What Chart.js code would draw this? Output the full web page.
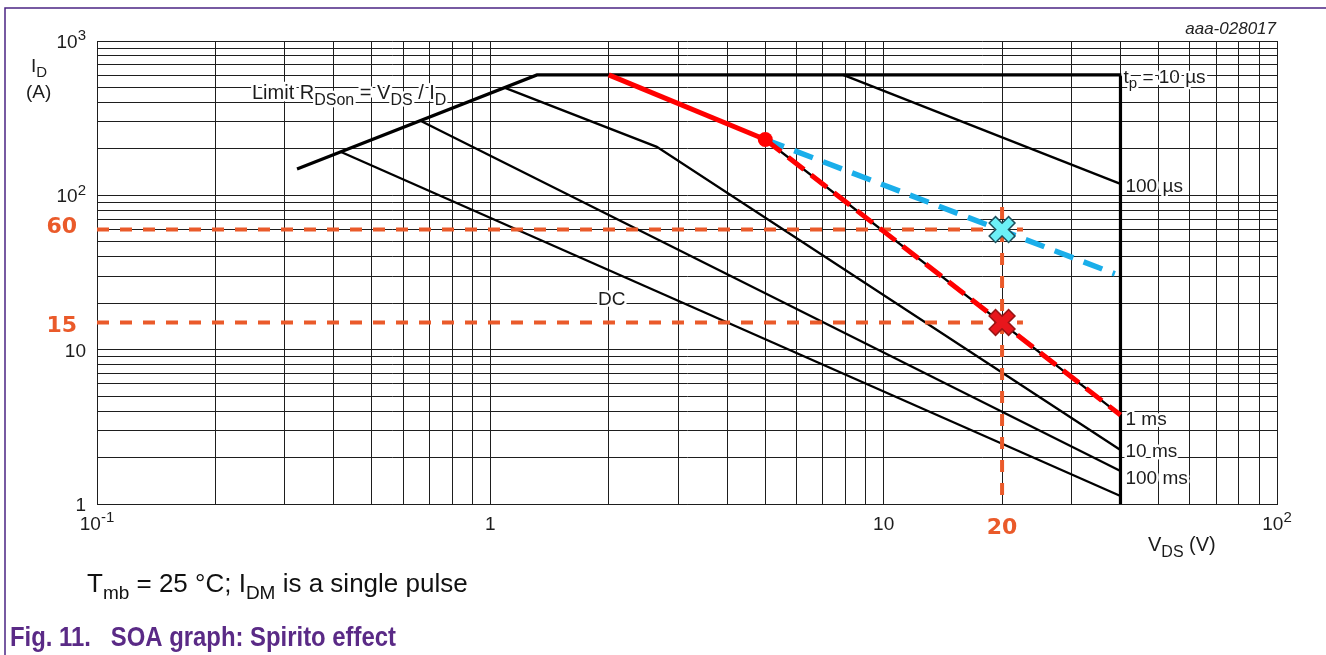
<!DOCTYPE html>
<html>
<head>
<meta charset="utf-8">
<script src="https://cdn.jsdelivr.net/npm/chart.js@4.4.1/dist/chart.umd.min.js"></script>
<style>
  html, body { margin: 0; padding: 0; background: #fff; }
  canvas { display: block; }
</style>
</head>
<body>
<canvas id="soa" width="1326" height="655"></canvas>
<script>
/* ---------- grid / tick data ---------- */
const xGridValues = [0.1, 0.2, 0.3, 0.4, 0.5, 0.6, 0.7, 0.8, 0.9,
                     1, 2, 3, 4, 5, 6, 7, 8, 9,
                     10, 20, 30, 40, 50, 60, 70, 80, 90, 100];
const yGridValues = [1, 2, 3, 4, 5, 6, 7, 8, 9,
                     10, 20, 30, 40, 50, 60, 70, 80, 90,
                     100, 200, 300, 400, 500, 600, 700, 800, 900, 1000];

const xTickValues = [0.1, 1, 10, 100];
const xTickBase   = ["10", "1", "10", "10"];
const xTickExp    = ["-1", "", "", "2"];
const yTickValues = [1000, 100, 10, 1];
const yTickBase   = ["10", "10", "10", "1"];
const yTickExp    = ["3", "2", "", ""];

/* ---------- SOA curves (VDS in V, ID in A) ---------- */
const boundary10us = [{x: 0.3225, y: 148}, {x: 1.314, y: 603}, {x: 40, y: 603}, {x: 40, y: 1}];
const curve100us   = [{x: 7.885, y: 603}, {x: 40, y: 118.6}];
const curve1ms     = [{x: 2, y: 603}, {x: 5, y: 230}, {x: 40, y: 3.77}];
const curve10ms    = [{x: 1.09, y: 497}, {x: 2.65, y: 206}, {x: 40, y: 2.24}];
const curve100ms   = [{x: 0.666, y: 303}, {x: 40, y: 1.636}];
const curveDC      = [{x: 0.4174, y: 191}, {x: 40, y: 1.127}];

/* ---------- Spirito annotation ---------- */
const redSolid     = [{x: 2, y: 603}, {x: 5, y: 230}];
const redDashed    = [{x: 5, y: 230}, {x: 40, y: 3.77}];
const blueDashed   = [{x: 5, y: 230}, {x: 38.7, y: 31}];
const refLine60    = [{x: 0.1, y: 60}, {x: 22.6, y: 60}];
const refLine15    = [{x: 0.1, y: 15}, {x: 22.6, y: 15}];
const refLine20    = [{x: 20, y: 84}, {x: 20, y: 1}];
const turnPoint    = [{x: 5, y: 230}];
const crossBlue    = [{x: 20, y: 60}];
const crossRed     = [{x: 20, y: 15}];

const FONT = "'Liberation Sans', Arial, sans-serif";
const ORANGE = "#ea5a2a";

function line(data, color, width, order, extra) {
    return Object.assign({
        data, showLine: true, borderColor: color, borderWidth: width,
        pointRadius: 0, fill: false, tension: 0, order
    }, extra || {});
}

function marker(data, style, radius, color, width, order) {
    return {
        data, showLine: false, pointStyle: style, pointRadius: radius,
        pointBorderColor: color, pointBackgroundColor: color,
        pointBorderWidth: width, order
    };
}

/* draw text with sub / superscript parts */
function drawRich(ctx, parts, x, y, size, opts) {
    const o = Object.assign({align: "left", color: "#1c1c1c", halo: false,
        weight: "normal", style: "normal", small: 0.78, family: FONT}, opts);
    const fontFor = p => `${o.style} ${o.weight} ${(p.sub || p.sup) ? Math.round(size * o.small) : size}px ${o.family}`;
    let w = 0;
    parts.forEach(p => { ctx.font = fontFor(p); w += ctx.measureText(p.t).width; });
    let x0 = o.align === "center" ? x - w / 2 : o.align === "right" ? x - w : x;
    ctx.textBaseline = "alphabetic";
    ctx.textAlign = "left";
    const passes = o.halo ? ["halo", "fill"] : ["fill"];
    passes.forEach(pass => {
        let cx = x0;
        parts.forEach(p => {
            ctx.font = fontFor(p);
            const dy = p.sub ? size * 0.28 : p.sup ? -size * 0.4 : 0;
            if (pass === "halo") {
                ctx.strokeStyle = "#fff";
                ctx.lineWidth = 5;
                ctx.lineJoin = "round";
                ctx.strokeText(p.t, cx, y + dy);
            } else {
                ctx.fillStyle = o.color;
                ctx.fillText(p.t, cx, y + dy);
            }
            cx += ctx.measureText(p.t).width;
        });
    });
}

const textPlugin = {
    id: "soaText",
    afterDraw(chart) {
        const {ctx} = chart;
        const sx = chart.scales.x, sy = chart.scales.y;
        const px = v => sx.getPixelForValue(v);
        const py = v => sy.getPixelForValue(v);
        ctx.save();

        // page frame
        ctx.strokeStyle = "#4b2484";
        ctx.lineWidth = 1.5;
        ctx.beginPath();
        ctx.moveTo(5, 655); ctx.lineTo(5, 8); ctx.lineTo(1326, 8);
        ctx.stroke();

        // tick labels
        xTickValues.forEach((v, i) => {
            const parts = [{t: xTickBase[i]}];
            if (xTickExp[i]) parts.push({t: xTickExp[i], sup: true});
            drawRich(ctx, parts, px(v), 530, 19, {align: "center"});
        });
        yTickValues.forEach((v, i) => {
            const parts = [{t: yTickBase[i]}];
            if (yTickExp[i]) parts.push({t: yTickExp[i], sup: true});
            drawRich(ctx, parts, 86, py(v) + 7, 19, {align: "right"});
        });

        // axis titles
        drawRich(ctx, [{t: "I"}, {t: "D", sub: true}], 31, 72, 19);
        drawRich(ctx, [{t: "(A)"}], 26, 98, 19);
        drawRich(ctx, [{t: "V"}, {t: "DS", sub: true}, {t: " (V)"}], 1148, 551, 20);

        // curve labels
        const xr = px(40);
        drawRich(ctx, [{t: "Limit R"}, {t: "DSon", sub: true}, {t: " = V"}, {t: "DS", sub: true}, {t: " / I"}, {t: "D", sub: true}],
            252, 99, 20, {halo: true});
        drawRich(ctx, [{t: "t"}, {t: "p", sub: true}, {t: " = 10 µs"}], xr + 3, py(603) + 8, 19, {halo: true});
        drawRich(ctx, [{t: "100 µs"}], xr + 5, py(118.6) + 8, 19, {halo: true});
        drawRich(ctx, [{t: "1 ms"}], xr + 5, py(3.77) + 10, 19, {halo: true});
        drawRich(ctx, [{t: "10 ms"}], xr + 5, py(2.24) + 7, 19, {halo: true});
        drawRich(ctx, [{t: "100 ms"}], xr + 5, py(1.636) + 13, 19, {halo: true});
        drawRich(ctx, [{t: "DC"}], 598, 305, 19, {halo: true});

        // Spirito reference values
        const bold = {color: ORANGE, weight: "bold", family: "'DejaVu Sans', Verdana, sans-serif"};
        drawRich(ctx, [{t: "60"}], 77, py(60) + 3, 22, Object.assign({align: "right"}, bold));
        drawRich(ctx, [{t: "15"}], 77, py(15) + 10, 22, Object.assign({align: "right"}, bold));
        drawRich(ctx, [{t: "20"}], px(20), 534, 22, Object.assign({align: "center"}, bold));

        // document id
        drawRich(ctx, [{t: "aaa-028017"}], 1276, 34, 17, {align: "right", style: "italic", color: "#222"});

        // footnote and caption
        drawRich(ctx, [{t: "T"}, {t: "mb", sub: true}, {t: " = 25 °C; I"}, {t: "DM", sub: true}, {t: " is a single pulse"}],
            87, 592, 26, {small: 0.72, color: "#111"});
        ctx.font = `bold 28px ${FONT}`;
        ctx.fillStyle = "#5a2a86";
        ctx.textAlign = "left";
        ctx.fillText("Fig. 11.   SOA graph: Spirito effect", 10, 646, 386);

        ctx.restore();
    }
};

const gridScale = (values, min, max) => ({
    type: "logarithmic",
    min, max,
    ticks: {display: false},
    grid: {color: "#1e1e1e", lineWidth: 1, drawTicks: false},
    border: {display: true, color: "#1e1e1e", width: 1},
    afterBuildTicks: s => { s.ticks = values.map(v => ({value: v})); }
});

new Chart(document.getElementById("soa"), {
    type: "scatter",
    data: {
        datasets: [
            line(boundary10us, "#000", 3.2, 10),
            line(curve100us, "#000", 2.3, 10),
            line(curve1ms, "#000", 2.3, 10),
            line(curve10ms, "#000", 2.3, 10),
            line(curve100ms, "#000", 2.3, 10),
            line(curveDC, "#000", 2.3, 10),
            line(refLine60, ORANGE, 4, 8, {borderDash: [12, 11]}),
            line(refLine15, ORANGE, 4, 8, {borderDash: [12, 11]}),
            line(refLine20, ORANGE, 4, 8, {borderDash: [12, 11]}),
            line(blueDashed, "#1aaeea", 5.5, 6, {borderDash: [20, 11]}),
            line(redDashed, "#ff0000", 5, 5, {borderDash: [20, 9]}),
            line(redSolid, "#ff0000", 5, 5),
            marker(turnPoint, "circle", 7.5, "#ff0000", 0, 4),
            marker(crossBlue, "crossRot", 14.5, "#1d4f5c", 10.5, 3),
            marker(crossBlue, "crossRot", 13, "#6cf0f7", 7.5, 2),
            marker(crossRed, "crossRot", 14.5, "#981414", 10.5, 3),
            marker(crossRed, "crossRot", 13, "#e8161c", 7.5, 2)
        ]
    },
    options: {
        responsive: false,
        animation: false,
        devicePixelRatio: 1,
        layout: {padding: {left: 97, right: 49, top: 41, bottom: 151}},
        plugins: {legend: {display: false}, tooltip: {enabled: false}},
        scales: {
            x: gridScale(xGridValues, 0.1, 100),
            y: gridScale(yGridValues, 1, 1000)
        }
    },
    plugins: [textPlugin]
});
</script>
</body>
</html>
